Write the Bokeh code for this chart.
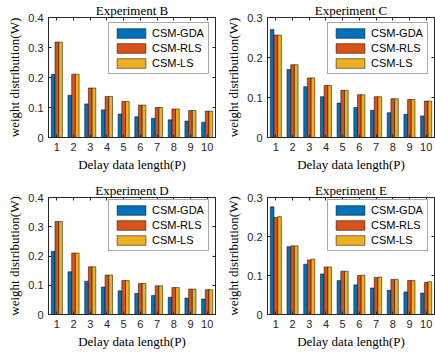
from bokeh.plotting import figure
from bokeh.models import ColumnDataSource, Range1d, FixedTicker, LinearAxis, Legend, CustomJSTickFormatter
from bokeh.transform import dodge
from bokeh.layouts import column, row
from bokeh.embed import file_html
from bokeh.resources import INLINE

P = [1, 2, 3, 4, 5, 6, 7, 8, 9, 10]
series_names = ["CSM-GDA", "CSM-RLS", "CSM-LS"]
colors = ["#0072BD", "#D95319", "#EDB120"]

B_gda = [0.210, 0.141, 0.112, 0.092, 0.078, 0.069, 0.064, 0.059, 0.055, 0.051]
B_rls = [0.318, 0.211, 0.165, 0.137, 0.120, 0.108, 0.100, 0.095, 0.090, 0.088]
B_ls = [0.318, 0.211, 0.165, 0.137, 0.120, 0.108, 0.100, 0.095, 0.090, 0.088]

C_gda = [0.270, 0.170, 0.127, 0.102, 0.086, 0.075, 0.068, 0.062, 0.058, 0.054]
C_rls = [0.256, 0.182, 0.149, 0.130, 0.118, 0.107, 0.102, 0.097, 0.095, 0.091]
C_ls = [0.256, 0.182, 0.149, 0.130, 0.118, 0.107, 0.102, 0.097, 0.095, 0.091]

D_gda = [0.216, 0.146, 0.114, 0.094, 0.081, 0.072, 0.065, 0.059, 0.056, 0.053]
D_rls = [0.318, 0.210, 0.163, 0.135, 0.116, 0.106, 0.098, 0.092, 0.087, 0.085]
D_ls = [0.318, 0.210, 0.163, 0.135, 0.116, 0.106, 0.098, 0.092, 0.087, 0.085]

E_gda = [0.276, 0.174, 0.129, 0.104, 0.087, 0.076, 0.068, 0.062, 0.058, 0.055]
E_rls = [0.249, 0.176, 0.140, 0.122, 0.111, 0.100, 0.095, 0.090, 0.087, 0.082]
E_ls = [0.251, 0.176, 0.142, 0.122, 0.111, 0.101, 0.096, 0.090, 0.087, 0.084]

y_ticks_04 = [0, 0.1, 0.2, 0.3, 0.4]
y_ticks_03 = [0, 0.1, 0.2, 0.3]

TICK_FONT = "Liberation Sans"
SERIF = "Liberation Serif"
DARK = "#262626"


def style_mirror(ax):
    ax.formatter = CustomJSTickFormatter(code="return '';")
    ax.major_label_standoff = 0
    ax.major_tick_in = 3
    ax.major_tick_out = 0
    ax.minor_tick_in = 0
    ax.minor_tick_out = 0
    ax.axis_line_color = DARK
    ax.major_tick_line_color = DARK


def make_panel(title, gda, rls, ls, ymax, yticks, w, h, border_left, border_top, border_bottom, border_right):
    src = ColumnDataSource(dict(p=P, gda=gda, rls=rls, ls=ls))
    p = figure(width=w, height=h, output_backend="svg", toolbar_location=None,
               x_range=Range1d(0.5, 10.5), y_range=Range1d(0, ymax),
               min_border_left=border_left, min_border_right=border_right,
               min_border_top=border_top, min_border_bottom=border_bottom,
               title=title)
    p.title.text_font = SERIF
    p.title.text_font_size = "13px"
    p.title.text_font_style = "normal"
    p.title.align = "center"
    p.title.text_color = "#000000"
    p.title.standoff = 0
    p.xgrid.visible = False
    p.ygrid.visible = False
    p.outline_line_color = DARK
    p.outline_line_alpha = 1.0
    p.background_fill_color = "white"
    p.border_fill_color = "white"

    keys = ["gda", "rls", "ls"]
    offsets = [-0.222, 0.0, 0.222]
    renderers = []
    for k, off, c, name in zip(keys, offsets, colors, series_names):
        r = p.vbar(x=dodge("p", off, range=p.x_range), top=k, width=0.22, source=src,
                   fill_color=c, line_color="#000000", line_width=0.5)
        renderers.append((name, [r]))

    legend = Legend(items=renderers, location=(60, 63))
    legend.label_text_font = TICK_FONT
    legend.label_text_font_size = "11px"
    legend.label_text_color = "#000000"
    legend.glyph_width = 36
    legend.glyph_height = 12
    legend.label_height = 12
    legend.label_standoff = 3
    legend.spacing = 3
    legend.padding = 4
    legend.margin = 0
    legend.border_line_color = "#555555"
    legend.border_line_width = 1
    legend.background_fill_alpha = 1.0
    p.add_layout(legend, "center")

    xax = p.below[0]
    yax = p.left[0]

    top_ax = LinearAxis(ticker=FixedTicker(ticks=P))
    style_mirror(top_ax)
    p.add_layout(top_ax, "above")
    right_ax = LinearAxis(ticker=FixedTicker(ticks=yticks))
    style_mirror(right_ax)
    p.add_layout(right_ax, "right")

    xax.ticker = FixedTicker(ticks=P)
    yax.ticker = FixedTicker(ticks=yticks)
    yax.major_label_overrides = {t: ("0" if t == 0 else f"{t:g}") for t in yticks}
    xax.axis_label = "Delay data length(P)"
    yax.axis_label = "weight distribution(W)"
    for ax in (xax, yax):
        ax.axis_label_text_font = SERIF
        ax.axis_label_text_font_size = "13px"
        ax.axis_label_text_font_style = "normal"
        ax.axis_label_text_color = "#000000"
        ax.axis_label_standoff = 3
        ax.major_label_text_font = TICK_FONT
        ax.major_label_text_font_size = "11px"
        ax.major_label_text_color = DARK
        ax.major_tick_in = 3
        ax.major_tick_out = 0
        ax.minor_tick_in = 0
        ax.minor_tick_out = 0
        ax.axis_line_color = DARK
        ax.major_tick_line_color = DARK
        ax.major_label_standoff = 5
    return p


b = make_panel("Experiment B", B_gda, B_rls, B_ls, 0.4, y_ticks_04, 217, 180, 48, 17, 43, 2)
c = make_panel("Experiment C", C_gda, C_rls, C_ls, 0.3, y_ticks_03, 218, 180, 50, 17, 43, 1)
d = make_panel("Experiment D", D_gda, D_rls, D_ls, 0.4, y_ticks_04, 217, 180, 48, 15, 46, 2)
e = make_panel("Experiment E", E_gda, E_rls, E_ls, 0.3, y_ticks_03, 218, 180, 50, 15, 46, 1)

layout = column(row(b, c), row(d, e))
html = file_html(layout, INLINE)
open("out.html", "w").write(html)
